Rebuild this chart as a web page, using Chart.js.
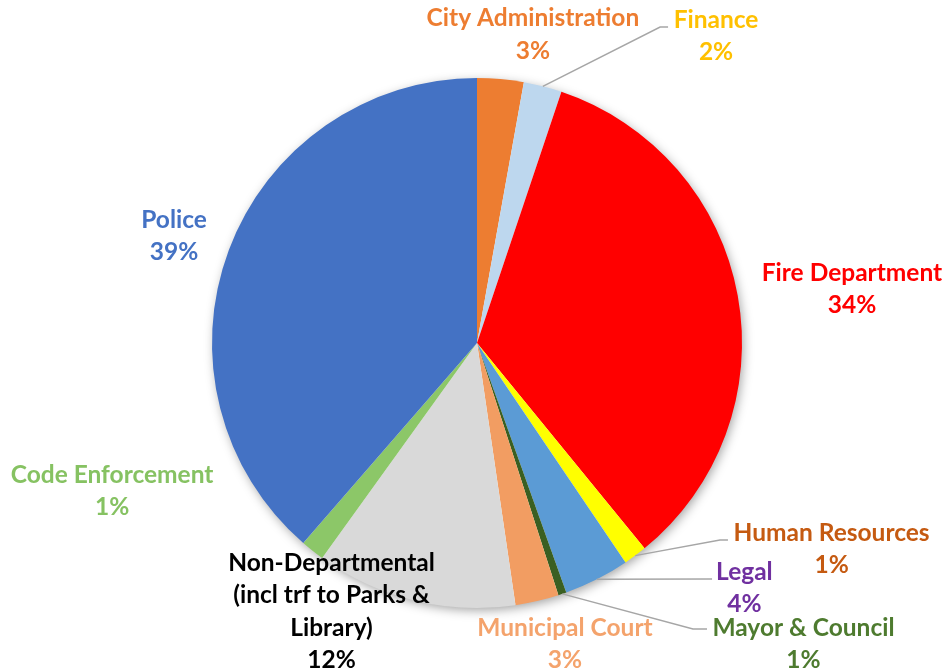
<!DOCTYPE html>
<html>
<head>
<meta charset="utf-8">
<script src="https://cdn.jsdelivr.net/npm/chart.js@4.4.1/dist/chart.umd.min.js"></script>
<style>
  html, body { margin: 0; padding: 0; background: #ffffff; }
  #wrap { width: 949px; height: 672px; position: relative; }
</style>
</head>
<body>
<div id="wrap"><canvas id="c"></canvas></div>
<script>
// ---- data ----
const categories = [
  "City Administration", "Finance", "Fire Department", "Human Resources", "Legal",
  "Mayor & Council", "Municipal Court", "Non-Departmental (incl trf to Parks & Library)",
  "Code Enforcement", "Police"
];
const shares = [2.83, 2.33, 33.95, 1.42, 4.0, 0.5, 2.65, 12.25, 1.45, 38.62];
const pctLabels = ["3%", "2%", "34%", "1%", "4%", "1%", "3%", "12%", "1%", "39%"];
const labelLines = [
  ["City Administration"], ["Finance"], ["Fire Department"], ["Human Resources"], ["Legal"],
  ["Mayor & Council"], ["Municipal Court"], ["Non-Departmental", "(incl trf to Parks &", "Library)"],
  ["Code Enforcement"], ["Police"]
];
const sliceColors = ["#ED7D31", "#BDD7EE", "#FF0000", "#FFFF00", "#5B9BD5",
                     "#3A5F22", "#F29D62", "#D9D9D9", "#8CC768", "#4472C4"];
const labelColors = ["#ED7D31", "#FFC000", "#FF0000", "#C55A11", "#7030A0",
                     "#4E7B2F", "#F4A36C", "#000000", "#86C262", "#4472C4"];

// label placement relative to pie centre, in units of the pie radius
// pos: centre of first text line; leader: elbow + end of leader line (null = none)
const labelLayout = [
  { pos: [0.211, -1.226], leader: null },
  { pos: [0.902, -1.219], leader: [[0.691, -1.192], [0.721, -1.192]] },
  { pos: [1.415, -0.264], leader: null },
  { pos: [1.338, 0.717],  leader: [[0.917, 0.743], [0.947, 0.743]] },
  { pos: [1.009, 0.864],  leader: [[0.887, 0.891], [0.887, 0.891]] },
  { pos: [1.232, 1.075],  leader: [[0.815, 1.079], [0.868, 1.079]] },
  { pos: [0.332, 1.075],  leader: null },
  { pos: [-0.549, 0.830], leader: null },
  { pos: [-1.377, 0.498], leader: null },
  { pos: [-1.143, -0.464], leader: null }
];

const shadowPlugin = {
  id: 'pieShadow',
  beforeDatasetsDraw(chart) {
    const arc = chart.getDatasetMeta(0).data[0];
    if (!arc) return;
    const ctx = chart.ctx;
    ctx.save();
    ctx.shadowColor = 'rgba(0,0,0,0.38)';
    ctx.shadowBlur = 11;
    ctx.shadowOffsetX = 2;
    ctx.shadowOffsetY = 3;
    ctx.fillStyle = '#ffffff';
    ctx.beginPath();
    ctx.arc(arc.x, arc.y, arc.outerRadius - 1, 0, Math.PI * 2);
    ctx.fill();
    ctx.restore();
  }
};

const labelPlugin = {
  id: 'sliceLabels',
  afterDatasetsDraw(chart) {
    const meta = chart.getDatasetMeta(0);
    const ctx = chart.ctx;
    const lineH = 32.5;
    ctx.save();
    ctx.font = 'bold 24.5px Lato, "Open Sans", sans-serif';
    ctx.textAlign = 'center';
    ctx.textBaseline = 'middle';
    meta.data.forEach((arc, i) => {
      const cx = arc.x, cy = arc.y, r = arc.outerRadius;
      const lay = labelLayout[i];
      const lx = cx + lay.pos[0] * r, ly = cy + lay.pos[1] * r;
      if (lay.leader) {
        const mid = (arc.startAngle + arc.endAngle) / 2;
        const sx = cx + Math.cos(mid) * r, sy = cy + Math.sin(mid) * r;
        ctx.strokeStyle = '#A6A6A6';
        ctx.lineWidth = 1.5;
        ctx.beginPath();
        ctx.moveTo(sx, sy);
        ctx.lineTo(cx + lay.leader[0][0] * r, cy + lay.leader[0][1] * r);
        ctx.lineTo(cx + lay.leader[1][0] * r, cy + lay.leader[1][1] * r);
        ctx.stroke();
      }
      ctx.fillStyle = labelColors[i];
      const lines = labelLines[i].concat([pctLabels[i]]);
      lines.forEach((t, k) => ctx.fillText(t, lx, ly + k * lineH));
    });
    ctx.restore();
  }
};

new Chart(document.getElementById('c'), {
  type: 'pie',
  data: {
    labels: categories,
    datasets: [{
      data: shares,
      backgroundColor: sliceColors,
      borderWidth: 0,
      hoverOffset: 0
    }]
  },
  options: {
    responsive: true,
    maintainAspectRatio: false,
    animation: false,
    layout: { padding: { left: 212, right: 207, top: 78, bottom: 64 } },
    plugins: { legend: { display: false }, tooltip: { enabled: false } }
  },
  plugins: [shadowPlugin, labelPlugin]
});
</script>
</body>
</html>
